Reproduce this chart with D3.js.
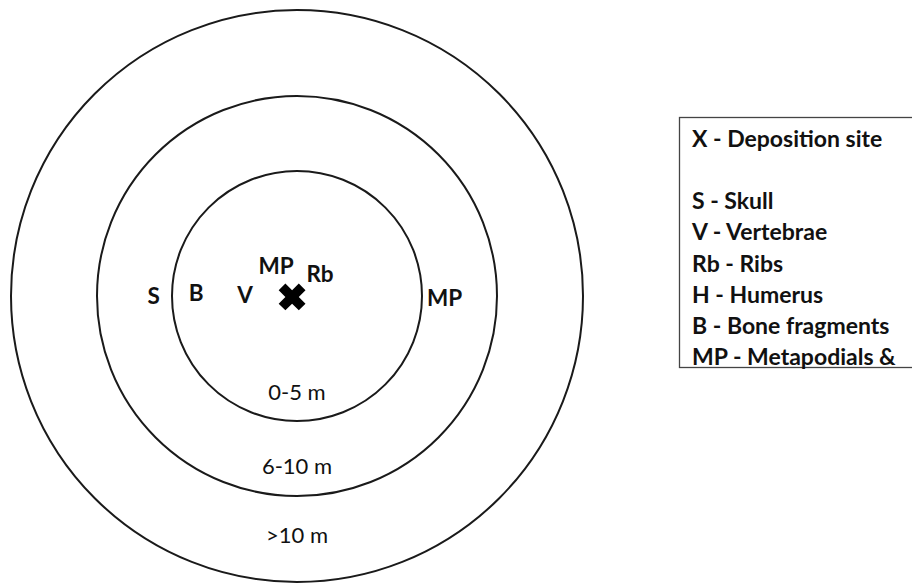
<!DOCTYPE html>
<html>
<head>
<meta charset="utf-8">
<script src="https://cdn.jsdelivr.net/npm/d3@7"></script>
<style>
  html, body { margin: 0; padding: 0; background: #ffffff; }
  svg { display: block; }
</style>
</head>
<body>
<svg id="chart" width="912" height="584"></svg>
<script>
// ---- data ----
const ringLabels = ["0-5 m", "6-10 m", ">10 m"];
const ringBounds = [5, 10, 15];                 // outer distance (m) of each ring
const ringLabelDist = [3.84, 8.03, 12.3];       // where each ring's label sits (m)

const boneCodes = ["S", "B", "V", "MP", "Rb", "MP"];
const boneDist  = [6.23, 4.04, 2.08, 1.48, 1.29, 6.5];     // distance from site (m)
const boneAngle = [180, 178, 178.3, 124.5, 44.4, -0.6];    // degrees, counter-clockwise from east

const siteDist = 0.2, siteAngle = 191;

const legendLines = [
  "X - Deposition site",
  "",
  "S - Skull",
  "V - Vertebrae",
  "Rb - Ribs",
  "H - Humerus",
  "B - Bone fragments",
  "MP - Metapodials &"
];

// ---- drawing ----
const svg = d3.select("#chart");
const cx = 297, cy = 296;
const rScale = d3.scaleLinear().domain([0, 5, 10, 15]).range([0, 125, 200, 286]);

function pos(d, a) {
  const r = rScale(d), t = a * Math.PI / 180;
  return [cx + r * Math.cos(t), cy - r * Math.sin(t)];
}

const g = svg.append("g");

g.selectAll("circle.ring")
  .data(ringBounds.slice().reverse())
  .join("circle")
  .attr("class", "ring")
  .attr("cx", cx).attr("cy", cy)
  .attr("r", d => rScale(d))
  .attr("fill", "none")
  .attr("stroke", "#1a1a1a")
  .attr("stroke-width", 2);

g.selectAll("text.ringlabel")
  .data(ringLabels)
  .join("text")
  .attr("class", "ringlabel")
  .attr("x", (d, i) => pos(ringLabelDist[i], -90)[0])
  .attr("y", (d, i) => pos(ringLabelDist[i], -90)[1])
  .attr("dy", "0.36em")
  .attr("text-anchor", "middle")
  .attr("font-family", "Lato, 'Open Sans', sans-serif")
  .attr("font-size", 22)
  .attr("fill", "#111")
  .text(d => d);

g.selectAll("text.bone")
  .data(boneCodes)
  .join("text")
  .attr("class", "bone")
  .attr("x", (d, i) => pos(boneDist[i], boneAngle[i])[0])
  .attr("y", (d, i) => pos(boneDist[i], boneAngle[i])[1])
  .attr("dy", "0.36em")
  .attr("text-anchor", "middle")
  .attr("font-family", "Lato, 'Open Sans', sans-serif")
  .attr("font-weight", "bold")
  .attr("font-size", 22.5)
  .attr("fill", "#111")
  .text(d => d);

const sp = pos(siteDist, siteAngle);
g.append("path")
  .attr("d", d3.symbol().type(d3.symbolCross).size(450)())
  .attr("transform", `translate(${sp[0]},${sp[1]}) rotate(45)`)
  .attr("fill", "#000");

// legend
const lg = svg.append("g");
lg.append("rect")
  .attr("x", 679.5).attr("y", 117.5)
  .attr("width", 260).attr("height", 250)
  .attr("fill", "#fff")
  .attr("stroke", "#444")
  .attr("stroke-width", 1.3);

const ly = d3.scaleLinear().domain([0, legendLines.length - 1]).range([147, 365]);
lg.selectAll("text")
  .data(legendLines)
  .join("text")
  .attr("x", 692)
  .attr("y", (d, i) => ly(i))
  .attr("font-family", "Lato, 'Open Sans', sans-serif")
  .attr("font-weight", "bold")
  .attr("font-size", 23)
  .attr("fill", "#111")
  .text(d => d);
</script>
</body>
</html>
